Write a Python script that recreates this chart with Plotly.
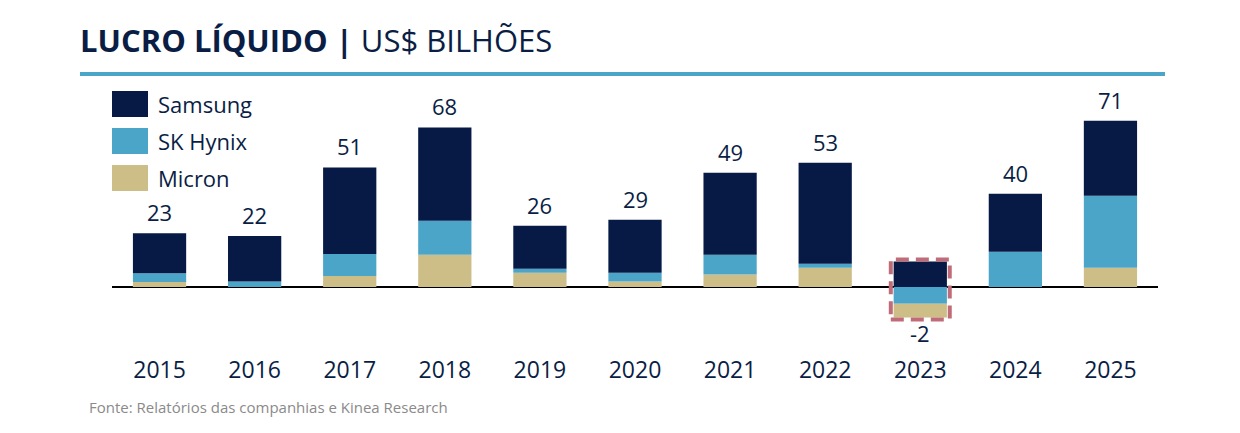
import plotly.graph_objects as go

years = ["2015", "2016", "2017", "2018", "2019", "2020", "2021", "2022", "2023", "2024", "2025"]
micron = [2.1, 0.0, 4.7, 13.8, 6.1, 2.3, 5.3, 8.2, -5.8, 0.0, 8.2]
sk_hynix = [3.8, 2.3, 9.4, 14.5, 1.7, 3.8, 8.5, 1.7, -7.2, 15.1, 30.8]
samsung = [17.1, 19.5, 37.0, 39.9, 18.4, 22.6, 35.0, 43.2, 10.9, 24.8, 32.0]
totals = ["23", "22", "51", "68", "26", "29", "49", "53", "-2", "40", "71"]
series_names = ["Samsung", "SK Hynix", "Micron"]

NAVY = "#071A45"
BLUE = "#4BA5C9"
TAN = "#CDBE88"
TXT = "#0A1E45"
colors = {"Samsung": NAVY, "SK Hynix": BLUE, "Micron": TAN}
FONT = "Open Sans"

W, H = 1240, 433
def px_x(p):
    return p / W
def px_y(p):
    return 1 - p / H

# split SK Hynix by sign so negatives stack SK first (next to zero), positives stack Micron first
sk_neg = [v if v < 0 else None for v in sk_hynix]
sk_pos = [v if v >= 0 else None for v in sk_hynix]

fig = go.Figure()
for name, vals in [("SK Hynix", sk_neg), ("Micron", micron), ("SK Hynix", sk_pos), ("Samsung", samsung)]:
    fig.add_trace(go.Bar(x=years, y=vals, name=name, marker=dict(color=colors[name], line=dict(width=0)),
                         width=0.56, showlegend=False))

# value labels (x given as category index)
for i, y in enumerate(years):
    pos = sum(v for v in (micron[i], sk_hynix[i], samsung[i]) if v > 0)
    neg = sum(v for v in (micron[i], sk_hynix[i], samsung[i]) if v < 0)
    tot = micron[i] + sk_hynix[i] + samsung[i]
    if tot >= 0:
        fig.add_annotation(x=i, y=pos, text=totals[i], showarrow=False, yanchor="bottom", yshift=4,
                           font=dict(family=FONT, size=22, color=TXT))
    else:
        fig.add_annotation(x=i, y=neg, text=totals[i], showarrow=False, yanchor="top", yshift=1,
                           font=dict(family=FONT, size=22, color=TXT))

# highlight box around 2023
idx = years.index("2023")
neg23 = micron[idx] + sk_hynix[idx]
fig.add_shape(type="rect", xref="x", yref="y", x0=idx - 0.31, x1=idx + 0.31, y0=neg23 - 0.9, y1=samsung[idx] + 0.9,
              line=dict(color="#C06B78", width=4, dash="13px,7px"), fillcolor="rgba(0,0,0,0)", layer="above")

# title
fig.add_annotation(xref="paper", yref="paper", x=px_x(78), y=px_y(40), xanchor="left", yanchor="middle",
                   text="<b>LUCRO LÍQUIDO |</b> US$ BILHÕES", showarrow=False,
                   font=dict(family=FONT, size=31, color=TXT))
fig.add_shape(type="line", xref="paper", yref="paper", x0=px_x(80), x1=px_x(1165), y0=px_y(74), y1=px_y(74),
              line=dict(color=BLUE, width=4))

# legend
for k, name in enumerate(series_names):
    top = 91 + 37 * k
    fig.add_shape(type="rect", xref="paper", yref="paper", x0=px_x(112), x1=px_x(148), y0=px_y(top), y1=px_y(top + 26),
                  fillcolor=colors[name], line=dict(width=0))
    fig.add_annotation(xref="paper", yref="paper", x=px_x(156), y=px_y(top + 13), xanchor="left", yanchor="middle",
                       text=name, showarrow=False, font=dict(family=FONT, size=22, color=TXT))

# source
fig.add_annotation(xref="paper", yref="paper", x=px_x(87), y=px_y(407), xanchor="left", yanchor="middle",
                   text="Fonte: Relatórios das companhias e Kinea Research", showarrow=False,
                   font=dict(family=FONT, size=15, color="#8A8A8A"))

ymin, ymax = -15, 75
fig.update_layout(
    width=W, height=H, margin=dict(l=0, r=0, t=0, b=0),
    paper_bgcolor="white", plot_bgcolor="white", barmode="relative", bargap=0.44,
    xaxis=dict(type="category", domain=[px_x(112), px_x(1158)], range=[-0.5, len(years) - 0.5],
               showgrid=False, showline=False, ticks="",
               automargin=False, tickfont=dict(family=FONT, size=23, color=TXT), ticklabelstandoff=32),
    yaxis=dict(domain=[px_y(287 + 15 * 2.34), px_y(287 - 75 * 2.34)], range=[ymin, ymax], showgrid=False,
               automargin=False, showticklabels=False, zeroline=True, zerolinecolor="black", zerolinewidth=2),
)
fig.write_html("out.html", config={"displayModeBar": False},
               post_script="document.body.style.margin='0';document.body.style.overflow='hidden';")
